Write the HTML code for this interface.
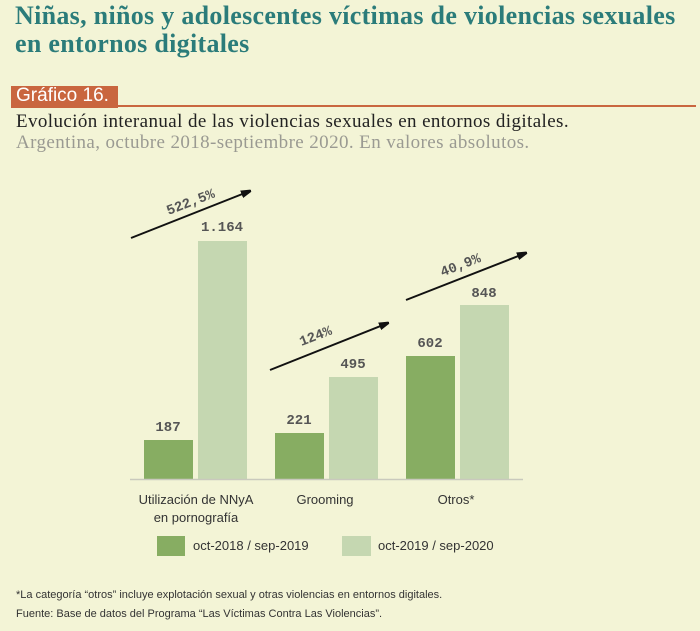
<!DOCTYPE html>
<html><head><meta charset="utf-8"><style>
body{margin:0;width:700px;height:631px;background:#f3f4d6;overflow:hidden;position:relative;font-family:"Liberation Sans",sans-serif}
.a{position:absolute;white-space:nowrap}
</style></head><body>
<div class="a" style="left:15px;top:2px;font-family:'Liberation Serif',serif;font-weight:bold;font-size:26px;line-height:28px;color:#2b7c7a;letter-spacing:0.3px">Niñas, niños y adolescentes víctimas de violencias sexuales<br>en entornos digitales</div>
<div class="a" style="left:11px;top:86px;width:107px;height:22px;background:#c9663f"></div>
<div class="a" style="left:11px;top:105px;width:685px;height:2px;background:#c9663f"></div>
<div class="a" style="left:16px;top:85px;font-family:'Liberation Sans Narrow','Liberation Sans',sans-serif;font-size:19px;color:#fff">Gráfico 16.</div>
<div class="a" style="left:16px;top:111px;font-family:'Liberation Serif',serif;font-size:19px;color:#222;letter-spacing:0.4px">Evolución interanual de las violencias sexuales en entornos digitales.</div>
<div class="a" style="left:16px;top:132px;font-family:'Liberation Serif',serif;font-size:19px;color:#9a9a92;letter-spacing:0.4px">Argentina, octubre 2018-septiembre 2020. En valores absolutos.</div>
<svg class="a" style="left:0;top:0" width="700" height="631">
<defs><marker id="m" markerWidth="10" markerHeight="8" refX="9" refY="4" orient="auto" markerUnits="userSpaceOnUse"><path d="M0,0L14,4L0,8z" fill="#111"/></marker></defs>
<g fill="#87ad62"><rect x="144" y="440" width="49" height="39"/><rect x="275" y="433" width="49" height="46"/><rect x="406" y="356" width="49" height="123"/><rect x="157" y="536" width="28" height="20"/></g>
<g fill="#c5d7b1"><rect x="198" y="241" width="49" height="238"/><rect x="329" y="377" width="49" height="102"/><rect x="460" y="305" width="49" height="174"/><rect x="342" y="536" width="29" height="20"/></g>
<line x1="130" y1="479.5" x2="523" y2="479.5" stroke="#c9c9bd" stroke-width="1.5"/>
<g stroke="#111" stroke-width="2" marker-end="url(#m)"><line x1="131" y1="238" x2="250" y2="191"/><line x1="270" y1="370" x2="388" y2="323"/><line x1="406" y1="300" x2="526" y2="253"/></g>
<g font-family="Liberation Mono,monospace" font-weight="bold" font-size="14" fill="#555" text-anchor="middle">
<text x="168" y="431">187</text><text x="222" y="231">1.164</text><text x="299" y="424">221</text><text x="353" y="368">495</text><text x="430" y="347">602</text><text x="484" y="297">848</text>
<text transform="translate(192,206) rotate(-21)">522,5%</text><text transform="translate(317,340) rotate(-21)">124%</text><text transform="translate(462,269) rotate(-21)">40,9%</text>
</g>
<g font-size="13" fill="#333" text-anchor="middle" font-family="Liberation Sans Narrow,Liberation Sans,sans-serif">
<text x="196" y="504">Utilización de NNyA</text><text x="196" y="522">en pornografía</text><text x="325" y="504">Grooming</text><text x="456" y="504">Otros*</text>
</g>
<g font-size="13" fill="#333" font-family="Liberation Sans Narrow,Liberation Sans,sans-serif"><text x="193" y="550">oct-2018 / sep-2019</text><text x="378" y="550">oct-2019 / sep-2020</text></g>
<g font-size="11" fill="#333" font-family="Liberation Sans Narrow,Liberation Sans,sans-serif"><text x="16" y="598">*La categoría “otros” incluye explotación sexual y otras violencias en entornos digitales.</text><text x="16" y="617">Fuente: Base de datos del Programa “Las Víctimas Contra Las Violencias”.</text></g>
</svg>
</body></html>
